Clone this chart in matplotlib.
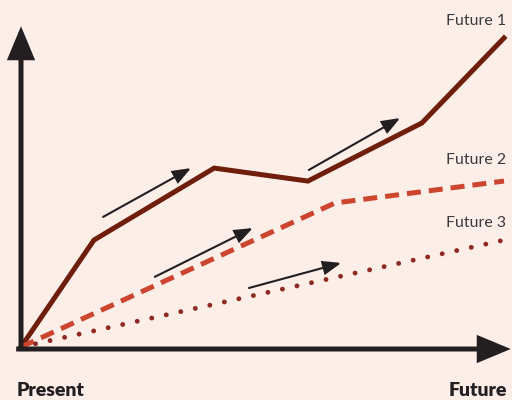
import matplotlib.pyplot as plt
from matplotlib.patches import FancyArrowPatch

# Data (arbitrary units: time 0..100, value 0..100)
time_f1 = [0, 15.1, 40.0, 59.4, 83.0, 100.0]
future1 = [0, 34.6, 57.9, 53.7, 72.5, 100.0]
time_f2 = [0, 65.0, 100.0]
future2 = [0, 46.6, 53.7]
time_f3 = [0, 100.0]
future3 = [0, 34.6]
series_labels = ["Future 1", "Future 2", "Future 3"]
label_y = [105.5, 60.5, 40.1]
axis_labels = ["Present", "Future"]
trend_start_x = [17.0, 59.6, 27.7, 47.2]
trend_start_y = [42.1, 57.3, 22.7, 19.1]
trend_end_x = [35.2, 78.5, 48.0, 66.3]
trend_end_y = [57.9, 74.1, 38.5, 27.2]

BG = "#FDEEE8"
INK = "#231F20"
C1 = "#6E1E0B"
C2 = "#CB452F"
C3 = "#8E2A22"

fig = plt.figure(figsize=(5.12, 4.0), dpi=100, facecolor=BG)
ax = fig.add_axes([21/512, 53/400, 483/512, 309/400])
ax.set_facecolor(BG)
ax.set_xlim(0, 100)
ax.set_ylim(0, 100)
ax.axis("off")

ax.plot(time_f1, future1, color=C1, lw=3.6, solid_joinstyle="miter", clip_on=False, zorder=3)
ax.plot(time_f2, future2, color=C2, lw=3.6, linestyle=(0, (2.8, 1.6)),
        dash_capstyle="butt", clip_on=False, zorder=3)
ax.plot(time_f3, future3, color=C3, lw=3.5, linestyle=(0, (0.01, 3.05)),
        dash_capstyle="round", clip_on=False, zorder=3)

# axes arrows
hx = FancyArrowPatch((-1.0, -0.65), (101.4, -0.65), arrowstyle="-|>,head_length=18,head_width=7.5",
                     mutation_scale=1, lw=3.6, color=INK, shrinkA=0, shrinkB=0,
                     joinstyle="miter", capstyle="butt", clip_on=False, zorder=4)
vx = FancyArrowPatch((0, -1.3), (0, 103.8), arrowstyle="-|>,head_length=18,head_width=7.5",
                     mutation_scale=1, lw=3.6, color=INK, shrinkA=0, shrinkB=0,
                     joinstyle="miter", capstyle="butt", clip_on=False, zorder=4)
ax.add_patch(hx)
ax.add_patch(vx)

for sx, sy, ex, ey in zip(trend_start_x, trend_start_y, trend_end_x, trend_end_y):
    a = FancyArrowPatch((sx, sy), (ex, ey), arrowstyle="-|>,head_length=11,head_width=4.2",
                        mutation_scale=1, lw=1.5, color=INK, shrinkA=0, shrinkB=0,
                        joinstyle="miter", clip_on=False, zorder=4)
    ax.add_patch(a)

for lab, y in zip(series_labels, label_y):
    ax.text(100.4, y, lab, ha="right", va="center", fontsize=11.4, family="Lato",
            color="#3A3A3A", clip_on=False)

fig.text(17/512, 1 - 391/400, axis_labels[0], ha="left", va="center", fontsize=14,
         family="Lato", fontweight="heavy", color=INK)
fig.text(507/512, 1 - 391/400, axis_labels[1], ha="right", va="center", fontsize=14,
         family="Lato", fontweight="heavy", color=INK)

fig.savefig("out.png", dpi=100, facecolor=BG)
